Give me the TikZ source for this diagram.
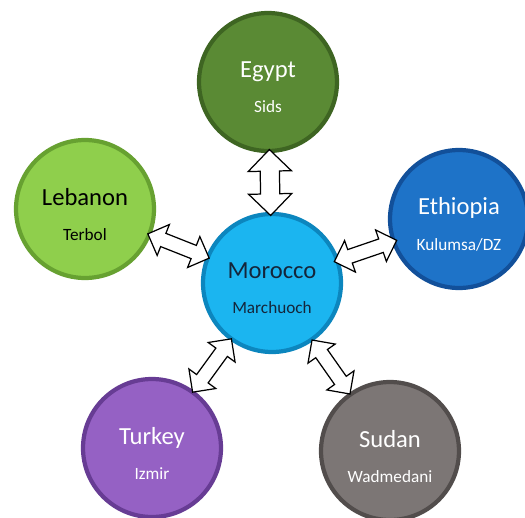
\documentclass[tikz,border=0pt]{standalone}
\usepackage{xcolor}
\usepackage{fontspec}
\setmainfont{Carlito}
\usepackage{tikz}
\usetikzlibrary{shapes.arrows,positioning}

\definecolor{egyptfill}{HTML}{5A8A34}
\definecolor{egyptrim}{HTML}{3E6522}
\definecolor{lebanonfill}{HTML}{8FCF4C}
\definecolor{lebanonrim}{HTML}{67A131}
\definecolor{ethiopiafill}{HTML}{1E73C8}
\definecolor{ethiopiarim}{HTML}{12509A}
\definecolor{moroccofill}{HTML}{1BB5F0}
\definecolor{moroccorim}{HTML}{0C86BE}
\definecolor{moroccotext}{HTML}{14253A}
\definecolor{turkeyfill}{HTML}{9561C4}
\definecolor{turkeyrim}{HTML}{673C94}
\definecolor{sudanfill}{HTML}{7C7675}
\definecolor{sudanrim}{HTML}{524D4C}

\begin{document}
\begin{tikzpicture}[
			x = 0.02cm, y = -0.02cm,
			land/.style = {circle, minimum size = 2.76cm, inner sep = 0pt, line width = 2.4pt},
			tag/.style = {align = center, inner sep = 0pt, yshift = -3pt, font = \fontsize{14}{16}\selectfont},
			swap/.style = {double arrow, draw = black, fill = white, line width = 0.7pt, sloped,
				minimum height = 1.32cm, minimum width = 0.64cm, inner sep = 0pt,
				inner ysep = 0.13cm, double arrow head extend = 0.19cm},
			wide swap/.style = {swap, minimum width = 0.84cm, inner ysep = 0.18cm, double arrow head extend = 0.24cm}]
			\def\sub{\fontsize{9.8}{11}\selectfont}

			\useasboundingbox (0,0) rectangle (525,518);

			% the six circles
			\node[land, fill = moroccofill, draw = moroccorim] (morocco) at (272,283) {};
			\node[land, fill = egyptfill, draw = egyptrim] (egypt) at (268,82) {};
			\node[land, fill = lebanonfill, draw = lebanonrim] (lebanon) at (85,209) {};
			\node[land, fill = ethiopiafill, draw = ethiopiarim] (ethiopia) at (459,219) {};
			\node[land, fill = turkeyfill, draw = turkeyrim] (turkey) at (152,448) {};
			\node[land, fill = sudanfill, draw = sudanrim] (sudan) at (390,451) {};

			\node[tag, text = moroccotext] (morocco tag) at (morocco) {Morocco\\[4pt]{\sub Marchuoch}};
			\node[tag, text = white] (egypt tag) at (egypt) {Egypt\\[4pt]{\sub Sids}};
			\node[tag, text = black] (lebanon tag) at (lebanon) {Lebanon\\[4pt]{\sub Terbol}};
			\node[tag, text = white] (ethiopia tag) at (ethiopia) {Ethiopia\\[4pt]{\sub Kulumsa/DZ}};
			\node[tag, text = white] (turkey tag) at (turkey) {Turkey\\[4pt]{\sub Izmir}};
			\node[tag, text = white] (sudan tag) at (sudan) {Sudan\\[4pt]{\sub Wadmedani}};

			% exchange arrows
			\path (morocco) -- (egypt) node[wide swap, midway] (egypt arrow) {};
			\path (morocco) -- (lebanon) node[swap, midway] (lebanon arrow) {};
			\path (morocco) -- (ethiopia) node[swap, midway] (ethiopia arrow) {};
			\path (morocco) -- (turkey) node[swap, midway] (turkey arrow) {};
			\path (morocco) -- (sudan) node[swap, midway] (sudan arrow) {};

		\end{tikzpicture}
\end{document}
